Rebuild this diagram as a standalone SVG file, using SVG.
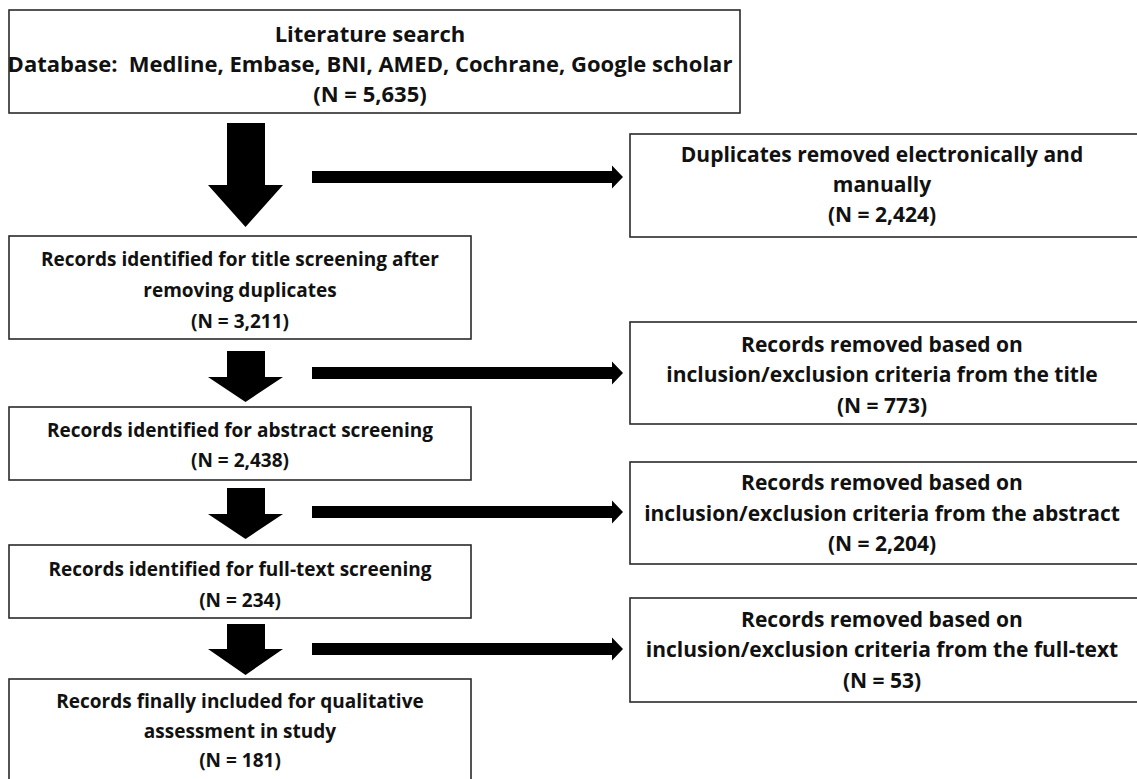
<svg xmlns="http://www.w3.org/2000/svg" width="1137" height="779" viewBox="0 0 1137 779">
<style>
  .box { fill: #ffffff; stroke: #2a2a2a; stroke-width: 1.6; }
  .t { font-family: "Open Sans", "Liberation Sans", sans-serif; font-weight: bold; fill: #111111; text-anchor: middle; }
  .top { font-size: 22px; }
  .l { font-size: 19px; }
  .r { font-size: 21px; }
  .arr { fill: #000000; stroke: none; }
</style>
<rect x="0" y="0" width="1137" height="779" fill="#ffffff"/>

<g id="connectors">
  <polygon class="arr" points="227,123 265,123 265,185 283,185 245.5,227 208,185 227,185"/>
  <polygon class="arr" points="227,351 265,351 265,377 283,377 245.5,402 208,377 227,377"/>
  <polygon class="arr" points="227,488 265,488 265,514 283,514 245.5,539 208,514 227,514"/>
  <polygon class="arr" points="227,624 265,624 265,649 283,649 245.5,675 208,649 227,649"/>
  <polygon class="arr" points="312,171 612,171 612,165.5 623,177 612,188.5 612,183 312,183"/>
  <polygon class="arr" points="312,367 612,367 612,361.5 623,373 612,384.5 612,379 312,379"/>
  <polygon class="arr" points="312,506 612,506 612,500.5 623,512 612,523.5 612,518 312,518"/>
  <polygon class="arr" points="312,643 612,643 612,637.5 623,649 612,660.5 612,655 312,655"/>
</g>

<g id="n-search">
  <rect class="box" x="9" y="10" width="731" height="103"/>
  <text class="t top" x="370" y="42">Literature search</text>
  <text class="t top" x="370" y="72" xml:space="preserve">Database:  Medline, Embase, BNI, AMED, Cochrane, Google scholar</text>
  <text class="t top" x="370" y="102">(N = 5,635)</text>
</g>

<g id="n-duplicates">
  <rect class="box" x="630" y="134" width="512" height="103"/>
  <text class="t r" x="882" y="162">Duplicates removed electronically and</text>
  <text class="t r" x="882" y="192">manually</text>
  <text class="t r" x="882" y="222">(N = 2,424)</text>
</g>

<g id="n-title">
  <rect class="box" x="9" y="236" width="462" height="103"/>
  <text class="t l" x="240" y="266">Records identified for title screening after</text>
  <text class="t l" x="240" y="297">removing duplicates</text>
  <text class="t l" x="240" y="328">(N = 3,211)</text>
</g>

<g id="n-removed-title">
  <rect class="box" x="630" y="322" width="512" height="102"/>
  <text class="t r" x="882" y="352">Records removed based on</text>
  <text class="t r" x="882" y="382">inclusion/exclusion criteria from the title</text>
  <text class="t r" x="882" y="413">(N = 773)</text>
</g>

<g id="n-abstract">
  <rect class="box" x="9" y="407" width="462" height="73"/>
  <text class="t l" x="240" y="437">Records identified for abstract screening</text>
  <text class="t l" x="240" y="467">(N = 2,438)</text>
</g>

<g id="n-removed-abstract">
  <rect class="box" x="630" y="462" width="512" height="102"/>
  <text class="t r" x="882" y="490">Records removed based on</text>
  <text class="t r" x="882" y="521">inclusion/exclusion criteria from the abstract</text>
  <text class="t r" x="882" y="551">(N = 2,204)</text>
</g>

<g id="n-fulltext">
  <rect class="box" x="9" y="545" width="462" height="73"/>
  <text class="t l" x="240" y="576">Records identified for full-text screening</text>
  <text class="t l" x="240" y="607">(N = 234)</text>
</g>

<g id="n-removed-fulltext">
  <rect class="box" x="630" y="598" width="512" height="104"/>
  <text class="t r" x="882" y="627">Records removed based on</text>
  <text class="t r" x="882" y="657">inclusion/exclusion criteria from the full-text</text>
  <text class="t r" x="882" y="688">(N = 53)</text>
</g>

<g id="n-included">
  <rect class="box" x="9" y="679" width="462" height="110"/>
  <text class="t l" x="240" y="708">Records finally included for qualitative</text>
  <text class="t l" x="240" y="738">assessment in study</text>
  <text class="t l" x="240" y="767">(N = 181)</text>
</g>
</svg>
